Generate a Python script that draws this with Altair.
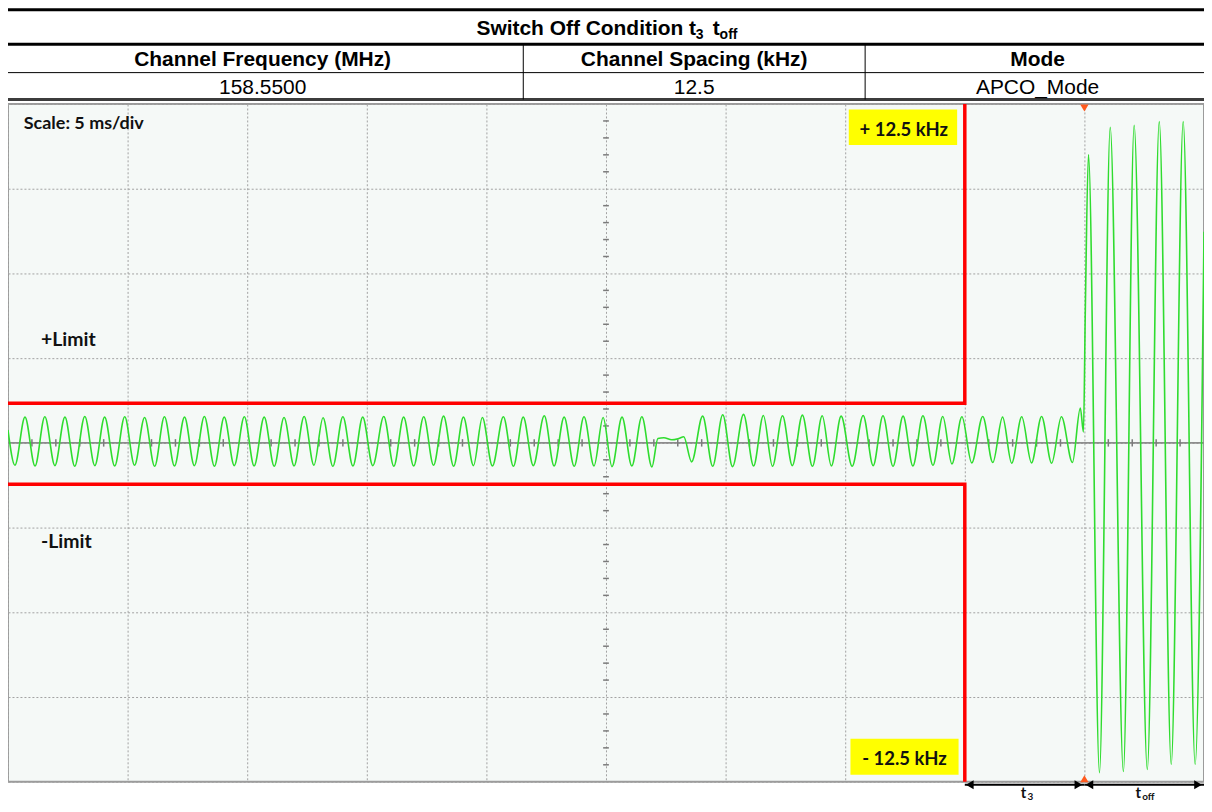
import altair as alt
import pandas as pd

# ---------------- data ----------------
# FM deviation trace (time in ms, deviation in kHz): turning points of the trace
wave_t = [0.00, 0.29, 0.71, 1.13, 1.54, 1.96, 2.38, 2.79, 3.21, 3.63, 4.04, 4.46, 4.88, 5.29, 5.71,
          6.13, 6.54, 6.96, 7.38, 7.79, 8.21, 8.63, 9.04, 9.46, 9.88, 10.29, 10.71, 11.13, 11.54,
          11.96, 12.38, 12.79, 13.17, 13.58, 14.00, 14.42, 14.83, 15.25, 15.71, 16.13, 16.54,
          16.96, 17.38, 17.79, 18.21, 18.63, 19.04, 19.46, 19.83, 20.25, 20.71, 21.13, 21.54,
          21.96, 22.42, 22.83, 23.25, 23.67, 24.08, 24.50, 24.88, 25.25, 25.67, 26.08, 26.50,
          26.92, 27.17, 27.42, 27.75, 28.04, 28.25, 28.58, 29.04, 29.46, 29.88, 30.29, 30.75,
          31.17, 31.58, 31.96, 32.38, 32.79, 33.21, 33.63, 34.04, 34.42, 34.83, 35.29, 35.75,
          36.17, 36.58, 37.00, 37.42, 37.83, 38.25, 38.67, 39.08, 39.46, 39.88, 40.29, 40.75,
          41.17, 41.58, 41.96, 42.38, 42.79, 43.21, 43.63, 44.04, 44.50, 44.83, 44.96, 45.04,
          45.17, 45.63, 46.08, 46.63, 47.08, 47.63, 48.13, 48.63, 49.13, 49.63, 50.00]
wave_khz = [3.8, -6.6, 7.6, -6.8, 7.7, -6.7, 7.6, -6.9, 7.8, -6.7, 7.6, -6.8, 7.7, -6.6, 7.5,
            -6.9, 7.7, -6.8, 7.6, -6.7, 7.8, -6.9, 7.6, -6.7, 7.7, -6.8, 7.6, -6.9, 7.5,
            -6.8, 7.8, -6.6, 7.4, -6.9, 7.7, -6.8, 7.6, -6.7, 7.8, -6.9, 7.6,
            -6.8, 7.7, -6.6, 7.9, -6.9, 7.6, -6.7, 7.5, -6.8, 7.7, -6.9, 7.6,
            -6.7, 8.0, -6.8, 7.6, -6.9, 7.7, -6.8, 7.5, -7.0, 7.6, -6.8, 7.7,
            -7.1, 1.3, 1.5, 0.9, 1.3, 1.8, -5.6, 7.9, -6.9, 8.3, -7.0, 8.4,
            -6.8, 8.1, -6.9, 8.0, -6.7, 8.2, -6.9, 8.0, -6.8, 7.9, -6.9, 8.1,
            -6.7, 8.0, -6.9, 7.9, -6.8, 8.0, -6.6, 7.8, -6.2, 7.7, -5.9, 7.8,
            -5.8, 7.6, -6.0, 7.7, -5.9, 7.8, -6.0, 7.7, -5.8, 10.3, 3.2, 40.0,
            85.1, -97.3, 93.1, -97.0, 93.7, -96.4, 94.8, -94.9, 94.8, -94.9, 62.3]

# limit mask (ms, kHz)
limit_t = [0, 40, 40]
limit_upper_khz = [11.7, 11.7, 100]
limit_lower_khz = [-12.2, -12.2, -100]

# texts
title_main = "Switch Off Condition t"
title_sub1 = "3"
title_t2 = "t"
title_sub2 = "off"
header_cells = ["Channel Frequency (MHz)", "Channel Spacing (kHz)", "Mode"]
value_cells = ["158.5500", "12.5", "APCO_Mode"]
scale_label = "Scale: 5 ms/div"
limit_labels = ["+Limit", "-Limit"]
band_labels = ["+ 12.5 kHz", "- 12.5 kHz"]

# ---------------- layout ----------------
PLOT_W, PLOT_H = 1200, 680
sx = alt.Scale(domain=[0, 50], nice=False, zero=False)
sy = alt.Scale(domain=[-100, 100], nice=False, zero=False)
ax_x = alt.Axis(values=list(range(0, 51, 5)), grid=True, labels=False, ticks=False,
                domain=False, title=None, gridColor="#a2a2a2", gridDash=[2, 2], gridWidth=1)
ax_y = alt.Axis(values=list(range(-100, 101, 25)), grid=True, labels=False, ticks=False,
                domain=False, title=None, gridColor="#a2a2a2", gridDash=[2, 2], gridWidth=1)
X = alt.X("t:Q", scale=sx, axis=ax_x)
Y = alt.Y("v:Q", scale=sy, axis=ax_y)

TABLE_FONT = "Liberation Sans"
SCOPE_FONT = "Lato"

layers = []

# centre horizontal axis line
layers.append(alt.Chart(pd.DataFrame({"v": [0]})).mark_rule(color="#8d8d8d", strokeWidth=2).encode(y=Y))

# minor ticks on the centre lines
minor_t = [m for m in range(1, 50) if m % 5]
layers.append(
    alt.Chart(pd.DataFrame({"t": minor_t, "v": [-1.1] * len(minor_t), "v2": [1.1] * len(minor_t)}))
    .mark_rule(color="#7a7a7a", strokeWidth=1.5)
    .encode(x=X, y=Y, y2="v2")
)
minor_v = [k for k in range(-95, 100, 5) if k % 25]
layers.append(
    alt.Chart(pd.DataFrame({"v": minor_v, "t": [24.88] * len(minor_v), "t2": [25.12] * len(minor_v)}))
    .mark_rule(color="#7a7a7a", strokeWidth=1.5)
    .encode(x=X, x2="t2", y=Y)
)

# waveform
layers.append(
    alt.Chart(pd.DataFrame({"t": wave_t, "v": wave_khz}))
    .mark_line(color="#2fdc2f", strokeWidth=1.6, interpolate="monotone")
    .encode(x=X, y=Y)
)

# limit mask
lim_df = pd.DataFrame({
    "t": limit_t + limit_t,
    "v": limit_upper_khz + limit_lower_khz,
    "seq": list(range(len(limit_t))) * 2,
    "grp": ["upper"] * len(limit_t) + ["lower"] * len(limit_t),
})
layers.append(
    alt.Chart(lim_df).mark_line(color="#ff0000", strokeWidth=3.5, strokeJoin="miter")
    .encode(x=X, y=Y, order="seq:Q", detail="grp:N")
)

# yellow label boxes
box_df = pd.DataFrame({"t": [35.15, 35.22], "t2": [39.68, 39.74], "v": [98.4, -87.3], "v2": [87.9, -97.9]})
layers.append(alt.Chart(box_df).mark_rect(color="#ffff00").encode(x=X, x2="t2", y=Y, y2="v2"))


def data_text(s, t, v, size, align="center"):
    return (alt.Chart(pd.DataFrame({"t": [t], "v": [v], "s": [s]}))
            .mark_text(font=SCOPE_FONT, fontSize=size, fontWeight="bold", align=align,
                       baseline="alphabetic", color="#111111")
            .encode(x=X, y=Y, text="s:N"))


layers.append(data_text(band_labels[0], 37.45, 90.6, 18.5))
layers.append(data_text(band_labels[1], 37.48, -95.0, 18.5))
layers.append(data_text(limit_labels[0], 1.38, 28.7, 19.5, align="left"))
layers.append(data_text(limit_labels[1], 1.38, -30.9, 19.5, align="left"))
layers.append(data_text(scale_label, 0.66, 92.7, 18, align="left"))

# trigger markers
layers.append(
    alt.Chart(pd.DataFrame({"t": [45]})).mark_point(shape="triangle-down", filled=True, size=70,
                                                    color="#ff5a1e", opacity=1)
    .encode(x=X, y=alt.value(4))
)
layers.append(
    alt.Chart(pd.DataFrame({"t": [45]})).mark_point(shape="triangle-up", filled=True, size=70,
                                                    color="#ff5a1e", opacity=1)
    .encode(x=X, y=alt.value(677))
)

# t3 / toff arrows under the plot
ARROW_Y = 683
layers.append(
    alt.Chart(pd.DataFrame({"t": [40, 45], "t2": [45, 50]}))
    .mark_rule(color="#000000", strokeWidth=2)
    .encode(x=X, x2="t2", y=alt.value(ARROW_Y))
)
layers.append(
    alt.Chart(pd.DataFrame({"t": [40, 45]})).mark_point(shape="triangle-left", filled=True, size=80,
                                                        color="#000000", opacity=1, xOffset=5)
    .encode(x=X, y=alt.value(ARROW_Y))
)
layers.append(
    alt.Chart(pd.DataFrame({"t": [45, 50]})).mark_point(shape="triangle-right", filled=True, size=80,
                                                        color="#000000", opacity=1, xOffset=-6)
    .encode(x=X, y=alt.value(ARROW_Y))
)


def sub_label(main, sub, t, dx_main, dx_sub):
    base = alt.Chart(pd.DataFrame({"t": [t], "a": [main], "b": [sub]}))
    m = base.mark_text(font=SCOPE_FONT, fontSize=15, fontWeight="bold", align="center",
                       baseline="alphabetic", color="#111111", dx=dx_main).encode(
        x=X, y=alt.value(696), text="a:N")
    s = base.mark_text(font=SCOPE_FONT, fontSize=10, fontWeight="bold", align="left",
                       baseline="alphabetic", color="#111111", dx=dx_sub).encode(
        x=X, y=alt.value(698), text="b:N")
    return [m, s]


layers += sub_label("t", "3", 42.5, -1, 3)
layers += sub_label("t", "off", 47.5, -6, -2)

# ---------------- header table (pixel layout above the plot) ----------------
def hrule(y, w, color="#000000", x1=-8, x2=1204):
    return (alt.Chart(pd.DataFrame({"a": [0]})).mark_rule(color=color, strokeWidth=w)
            .encode(x=alt.value(x1), x2=alt.value(x2), y=alt.value(y)))


def vrule(x, y1, y2, w=1):
    return (alt.Chart(pd.DataFrame({"a": [0]})).mark_rule(color="#000000", strokeWidth=w)
            .encode(x=alt.value(x), y=alt.value(y1), y2=alt.value(y2)))


def ptext(s, x, y, size, weight="bold", align="center"):
    return (alt.Chart(pd.DataFrame({"s": [s]}))
            .mark_text(font=TABLE_FONT, fontSize=size, fontWeight=weight, align=align,
                       baseline="alphabetic", color="#000000")
            .encode(x=alt.value(x), y=alt.value(y), text="s:N"))


layers.append(hrule(-94.5, 3))
layers.append(hrule(-60, 3))
layers.append(hrule(-31.5, 1))
layers.append(hrule(-4.5, 3, color="#3c3c3c"))
col_edges = [-6, 517, 860, 1206]
for xe in col_edges[1:3]:
    layers.append(vrule(xe, -60, -4.5))
col_centers = [(col_edges[i] + col_edges[i + 1]) / 2 for i in range(3)]

layers.append(ptext(title_main, 470, -69, 21, align="left"))
layers.append(ptext(title_sub1, 690, -65, 14, align="left"))
layers.append(ptext(title_t2, 707, -69, 21, align="left"))
layers.append(ptext(title_sub2, 714, -65, 14, align="left"))
for c, h, v in zip(col_centers, header_cells, value_cells):
    layers.append(ptext(h, c, -38.5, 21))
    layers.append(ptext(v, c, -10, 21, weight="normal"))

chart = (
    alt.layer(*layers)
    .properties(
        width=PLOT_W, height=PLOT_H,
        padding={"left": 0, "top": 95, "right": 0, "bottom": 21},
        autosize=alt.AutoSizeParams(type="none"),
        background="#ffffff",
    )
    .configure_view(fill="#f5f9f7", stroke="#9b9b9b", strokeWidth=2)
)

chart.save("out.html", embed_options={"renderer": "svg", "actions": False})
